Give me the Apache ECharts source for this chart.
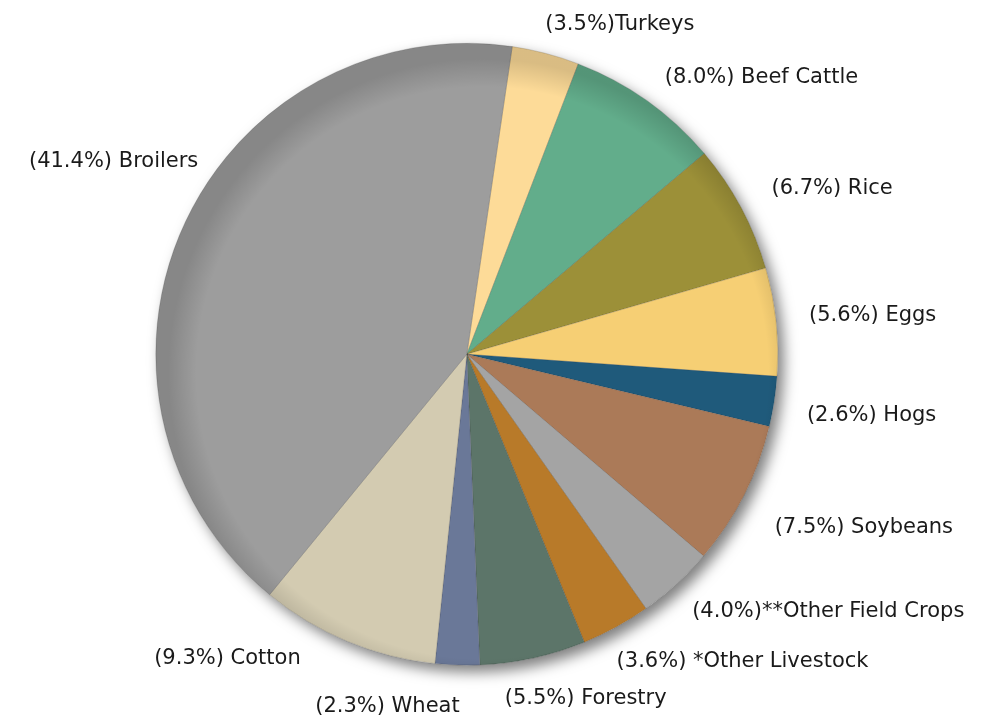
<!DOCTYPE html>
<html>
<head>
<meta charset="utf-8">
<title>Farm Income Share</title>
<script src="https://cdn.jsdelivr.net/npm/echarts@6/dist/echarts.min.js"></script>
<style>
  html, body { margin: 0; padding: 0; background: #ffffff; }
  #chart { width: 989px; height: 720px; }
</style>
</head>
<body>
<div id="chart"></div>
<script>
// Commodity shares, clockwise from the top
var categories = ['Turkeys', 'Beef Cattle', 'Rice', 'Eggs', 'Hogs', 'Soybeans',
  '**Other Field Crops', '*Other Livestock', 'Forestry', 'Wheat', 'Cotton', 'Broilers'];
var shares = [3.5, 8.0, 6.7, 5.6, 2.6, 7.5, 4.0, 3.6, 5.5, 2.3, 9.3, 41.4];
var sliceColors = ['#fddb98', '#62ad8b', '#9c9038', '#f6cf74', '#1f5a7b', '#ab7a58',
  '#a4a4a4', '#b87a29', '#5c7569', '#6a7898', '#d3cbb1', '#9d9d9d'];
// Labels put a space after the percentage except for these two
var tightLabels = ['Turkeys', '**Other Field Crops'];

var center = ['47.2%', '49.2%'];
var radius = 311;

// small per-label nudges away from the default outside position
var labelNudge = [
  [-17, -8], [-6, -5], [0, -9], [0, -4], [0, 11], [0, 22],
  [-10, 11], [-21, 15], [-44, 19], [14, 19], [-27, -3], [47, -58]
];

var chart = echarts.init(document.getElementById('chart'), null, { renderer: 'canvas' });

var pieData = categories.map(function (name, i) {
  return { name: name, value: shares[i], itemStyle: { color: sliceColors[i] } };
});

chart.setOption({
  backgroundColor: '#ffffff',
  animation: false,
  series: [
    {
      // backing disc that casts the drop shadow
      type: 'pie',
      silent: true,
      z: 1,
      center: center,
      radius: radius,
      label: { show: false },
      labelLine: { show: false },
      data: [{ value: 1, itemStyle: {
        color: '#ffffff',
        shadowBlur: 14,
        shadowOffsetX: 6,
        shadowOffsetY: 7,
        shadowColor: 'rgba(0,0,0,0.5)'
      } }]
    },
    {
      type: 'pie',
      z: 2,
      center: center,
      radius: radius,
      startAngle: 81.6,
      clockwise: true,
      avoidLabelOverlap: false,
      itemStyle: { borderColor: 'rgba(40,40,40,0.3)', borderWidth: 0.6 },
      label: {
        show: true,
        position: 'outside',
        overflow: 'none',
        fontFamily: 'DejaVu Sans',
        fontSize: 21,
        color: '#1a1a1a',
        formatter: function (p) {
          var pct = '(' + p.value.toFixed(1) + '%)';
          return tightLabels.indexOf(p.name) >= 0 ? pct + p.name : pct + ' ' + p.name;
        }
      },
      labelLine: { show: false, length: 22, length2: 6 },
      labelLayout: function (params) {
        var n = labelNudge[params.dataIndex];
        return { dx: n[0], dy: n[1] };
      },
      emphasis: { disabled: true },
      data: pieData
    },
    {
      // shaded rim over the disc, heavier towards the upper left
      type: 'pie',
      silent: true,
      z: 3,
      center: center,
      radius: radius,
      label: { show: false },
      labelLine: { show: false },
      data: [{ value: 1, itemStyle: {
        color: new echarts.graphic.RadialGradient(0.525, 0.53, 0.505, [
          { offset: 0, color: 'rgba(0,0,0,0)' },
          { offset: 0.91, color: 'rgba(0,0,0,0)' },
          { offset: 1, color: 'rgba(0,0,0,0.14)' }
        ])
      } }]
    }
  ]
});
</script>
</body>
</html>
